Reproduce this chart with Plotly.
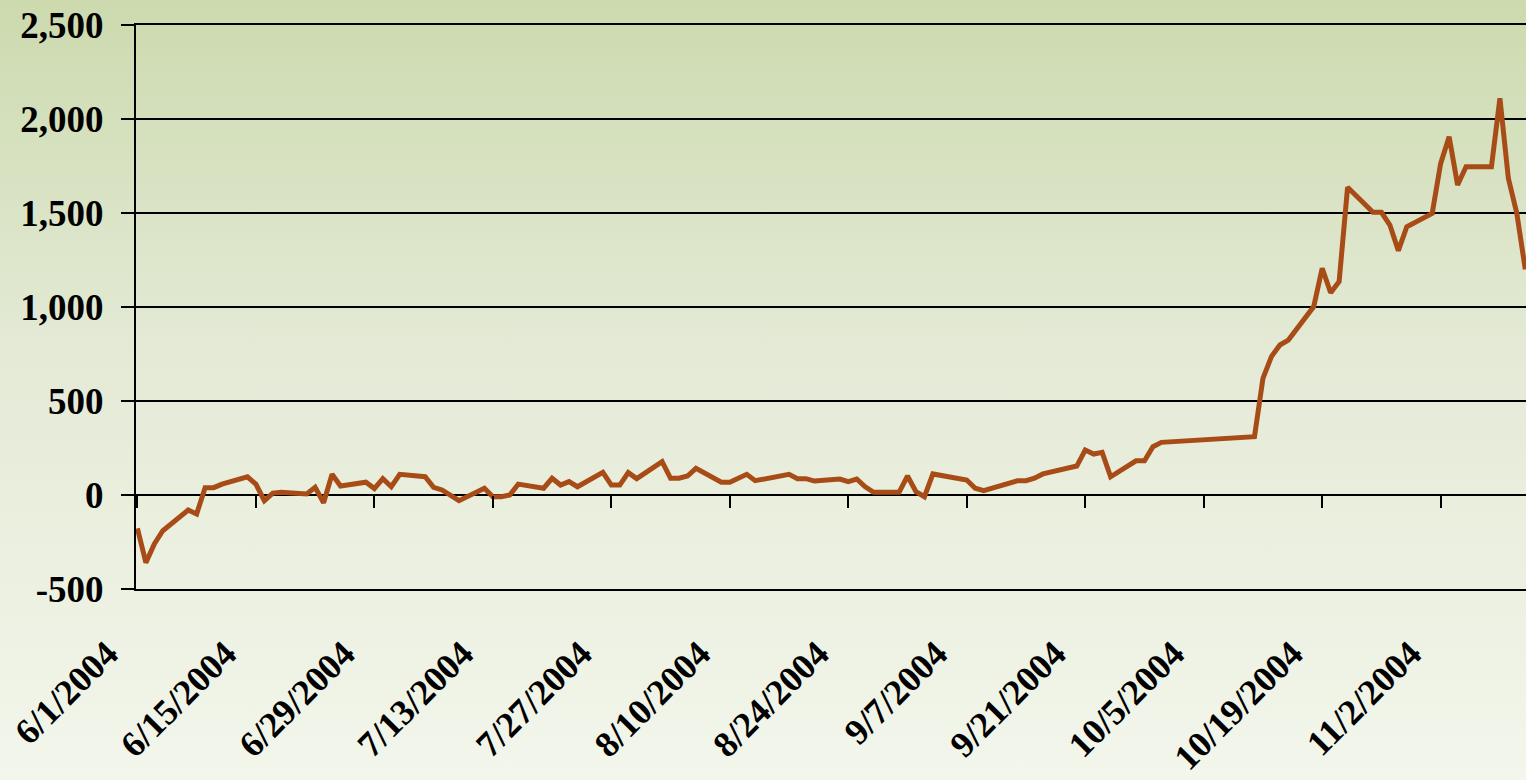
import base64
import plotly.graph_objects as go

# ---- data ----
dates = [
    "2004-06-01", "2004-06-02", "2004-06-03", "2004-06-04", "2004-06-07", "2004-06-08",
    "2004-06-09", "2004-06-10", "2004-06-11", "2004-06-14", "2004-06-15", "2004-06-16",
    "2004-06-17", "2004-06-18", "2004-06-21", "2004-06-22", "2004-06-23", "2004-06-24",
    "2004-06-25", "2004-06-28", "2004-06-29", "2004-06-30", "2004-07-01", "2004-07-02",
    "2004-07-05", "2004-07-06", "2004-07-07", "2004-07-09", "2004-07-12", "2004-07-13",
    "2004-07-14", "2004-07-15", "2004-07-16", "2004-07-19", "2004-07-20", "2004-07-21",
    "2004-07-22", "2004-07-23", "2004-07-26", "2004-07-27", "2004-07-28", "2004-07-29",
    "2004-07-30", "2004-08-02", "2004-08-03", "2004-08-04", "2004-08-05", "2004-08-06",
    "2004-08-09", "2004-08-10", "2004-08-12", "2004-08-13", "2004-08-17", "2004-08-18",
    "2004-08-19", "2004-08-20", "2004-08-23", "2004-08-24", "2004-08-25", "2004-08-26",
    "2004-08-27", "2004-08-30", "2004-08-31", "2004-09-01", "2004-09-02", "2004-09-03",
    "2004-09-07", "2004-09-08", "2004-09-09", "2004-09-13", "2004-09-14", "2004-09-15",
    "2004-09-16", "2004-09-17", "2004-09-20", "2004-09-21", "2004-09-22", "2004-09-23",
    "2004-09-24", "2004-09-27", "2004-09-28", "2004-09-29", "2004-09-30", "2004-10-11",
    "2004-10-12", "2004-10-13", "2004-10-14", "2004-10-15", "2004-10-18", "2004-10-19",
    "2004-10-20", "2004-10-21", "2004-10-22", "2004-10-25", "2004-10-26", "2004-10-27",
    "2004-10-28", "2004-10-29", "2004-11-01", "2004-11-02", "2004-11-03", "2004-11-04",
    "2004-11-05", "2004-11-08", "2004-11-09", "2004-11-10", "2004-11-11", "2004-11-12",
]
values = [
    -177, -360, -260, -190, -80, -101,
    39, 39, 58, 97, 58, -30,
    10, 14, 5, 41, -41, 110,
    48, 68, 34, 87, 44, 110,
    97, 41, 27, -30, 36, -9,
    -9, 0, 58, 36, 89, 53,
    71, 44, 121, 53, 53, 119,
    87, 177, 89, 89, 101, 142,
    68, 68, 110, 76, 110, 87,
    87, 74, 85, 71, 85, 44,
    14, 14, 101, 18, -9, 112,
    80, 36, 23, 76, 76, 89,
    112, 124, 154, 239, 218, 227,
    97, 182, 182, 257, 280, 310,
    620, 736, 798, 824, 1002, 1206,
    1076, 1135, 1637, 1504, 1504, 1436,
    1300, 1427, 1498, 1764, 1906, 1649,
    1746, 1746, 2110, 1684, 1498, 1200,
]

x_tick_dates = [
    "2004-06-01", "2004-06-15", "2004-06-29", "2004-07-13", "2004-07-27", "2004-08-10",
    "2004-08-24", "2004-09-07", "2004-09-21", "2004-10-05", "2004-10-19", "2004-11-02",
]
x_tick_labels = [
    "6/1/2004", "6/15/2004", "6/29/2004", "7/13/2004", "7/27/2004", "8/10/2004",
    "8/24/2004", "9/7/2004", "9/21/2004", "10/5/2004", "10/19/2004", "11/2/2004",
]
y_tick_values = [-500, 0, 500, 1000, 1500, 2000, 2500]
y_tick_labels = ["-500", "0", "500", "1,000", "1,500", "2,000", "2,500"]

# ---- styling ----
W, H = 1526, 780
ML, MR, MT, MB = 136, 0, 25, 191
PW, PH = W - ML - MR, H - MT - MB
LINE_COLOR = "#A84C17"
YFONT = dict(family="Liberation Serif, Times New Roman, serif", size=37, color="black", weight="bold")
XFONT = dict(family="Liberation Serif, Times New Roman, serif", size=36, color="black", weight="bold")

svg = (
    f'<svg xmlns="http://www.w3.org/2000/svg" width="{W}" height="{H}" preserveAspectRatio="none">'
    '<defs><linearGradient id="g" x1="0" y1="0" x2="0" y2="1">'
    '<stop offset="0" stop-color="rgb(204,218,174)"/>'
    '<stop offset="0.45" stop-color="rgb(228,234,214)"/>'
    '<stop offset="1" stop-color="rgb(243,246,235)"/>'
    '</linearGradient></defs>'
    f'<rect x="0" y="0" width="{W}" height="{H}" fill="url(#g)"/></svg>'
)
bg_uri = "data:image/svg+xml;base64," + base64.b64encode(svg.encode()).decode()

x_range = ["2004-05-31 20:00", "2004-11-12 02:00"]

fig = go.Figure()
fig.add_trace(go.Scatter(
    x=dates, y=values, mode="lines",
    line=dict(color=LINE_COLOR, width=5),
    hoverinfo="x+y", showlegend=False,
))
# invisible helper trace so the tick axis at y=0 is drawn
fig.add_trace(go.Scatter(
    x=[dates[0]], y=[values[0]], xaxis="x2", mode="markers",
    marker=dict(opacity=0), hoverinfo="skip", showlegend=False,
))

fig.update_layout(
    width=W, height=H,
    margin=dict(l=ML, r=MR, t=MT, b=MB, pad=0),
    paper_bgcolor="rgb(243,246,235)",
    plot_bgcolor="rgba(0,0,0,0)",
    showlegend=False,
    images=[dict(
        source=bg_uri, xref="paper", yref="paper",
        x=-ML / PW, y=1 + MT / PH, sizex=W / PW, sizey=H / PH,
        xanchor="left", yanchor="top", sizing="stretch", layer="below",
    )],
    xaxis=dict(
        type="date", range=x_range, automargin=False,
        tickvals=x_tick_dates, ticktext=x_tick_labels,
        tickangle=-45, tickfont=XFONT,
        ticks="", showgrid=False, zeroline=False,
        showline=True, linecolor="black", linewidth=2, mirror=True,
        ticklabelstandoff=27, ticklabelshift=-30,
    ),
    xaxis2=dict(
        type="date", overlaying="x", matches="x", anchor="free", position=500 / 3000,
        tickvals=x_tick_dates, showticklabels=False, automargin=False,
        ticks="outside", ticklen=12, tickwidth=2, tickcolor="black",
        showgrid=False, zeroline=False, showline=False,
    ),
    yaxis=dict(
        range=[-500, 2500], automargin=False,
        tickvals=y_tick_values, ticktext=y_tick_labels,
        tickfont=YFONT,
        ticks="outside", ticklen=13, tickwidth=2, tickcolor="black",
        showgrid=True, gridcolor="black", gridwidth=2,
        zeroline=True, zerolinecolor="black", zerolinewidth=2,
        showline=True, linecolor="black", linewidth=2,
        ticklabelstandoff=10,
    ),
)

fig.write_html(
    "out.html",
    config={"displayModeBar": False},
    post_script="document.body.style.margin='0';document.body.style.overflow='hidden';",
)
